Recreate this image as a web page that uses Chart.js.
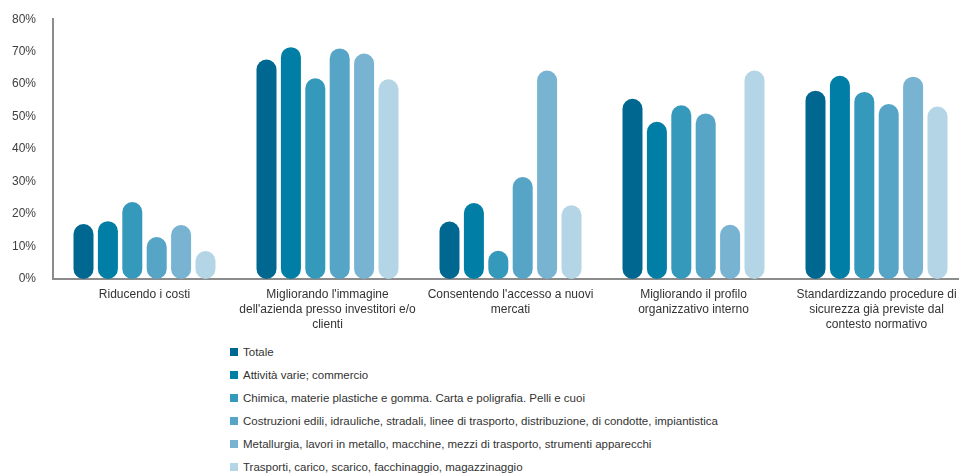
<!DOCTYPE html>
<html>
<head>
<meta charset="utf-8">
<script src="https://cdn.jsdelivr.net/npm/chart.js@4"></script>
<style>
  html, body { margin: 0; padding: 0; background: #fff; }
  body { width: 959px; height: 474px; position: relative; overflow: hidden; font-family: "Liberation Sans", Arial, sans-serif; }
  #wrap { position: absolute; left: 0; top: -5px; width: 968px; height: 345px; }
  #legend { position: absolute; left: 230px; top: 340px; font-size: 11.5px; color: #333; }
  .item { height: 23px; line-height: 20px; display: flex; align-items: center; }
  .sw { width: 8px; height: 8px; margin-right: 5px; flex: none; }
</style>
</head>
<body>
<div id="wrap"><canvas id="c"></canvas></div>
<div id="legend"></div>
<script>
const categories = [
  "Riducendo i costi",
  ["Migliorando l'immagine", "dell'azienda presso investitori e/o", "clienti"],
  ["Consentendo l'accesso a nuovi", "mercati"],
  ["Migliorando il profilo", "organizzativo interno"],
  ["Standardizzando procedure di", "sicurezza già previste dal", "contesto normativo"]
];
const seriesNames = [
  "Totale",
  "Attività varie; commercio",
  "Chimica, materie plastiche e gomma. Carta e poligrafia. Pelli e cuoi",
  "Costruzioni edili, idrauliche, stradali, linee di trasporto, distribuzione, di condotte, impiantistica",
  "Metallurgia, lavori in metallo, macchine, mezzi di trasporto, strumenti apparecchi",
  "Trasporti, carico, scarico, facchinaggio, magazzinaggio"
];
const totale      = [16.9, 67.6, 17.7, 55.5, 58.0];
const attivita    = [17.8, 71.4, 23.4, 48.4, 62.6];
const chimica     = [23.7, 61.8, 8.7, 53.5, 57.6];
const costruzioni = [12.9, 71.0, 31.4, 51.0, 53.9];
const metallurgia = [16.6, 69.4, 64.2, 16.7, 62.3];
const trasporti   = [8.6, 61.5, 22.7, 64.2, 53.1];
const yTicks = [0, 10, 20, 30, 40, 50, 60, 70, 80];

const colors = ["#006890", "#007EA5", "#3599BB", "#56A5C6", "#78B3D1", "#B3D5E6"];
const seriesValues = [totale, attivita, chimica, costruzioni, metallurgia, trasporti];

const datasets = seriesValues.map((vals, i) => ({
  label: seriesNames[i],
  data: vals,
  backgroundColor: colors[i],
  borderWidth: 0,
  borderRadius: 20,
  borderSkipped: false,
  categoryPercentage: 0.80,
  barPercentage: 0.82
}));

const chart = new Chart(document.getElementById('c'), {
  type: 'bar',
  data: { labels: categories, datasets },
  options: {
    responsive: true,
    maintainAspectRatio: false,
    animation: false,
    layout: { padding: { top: 6, left: 0, right: 0, bottom: 0 } },
    plugins: { legend: { display: false }, tooltip: { enabled: false } },
    scales: {
      x: {
        grid: { display: false, drawTicks: false },
        border: { display: true, color: '#8c8c8c', width: 2 },
        ticks: {
          color: '#333', padding: 8, maxRotation: 0, autoSkip: false,
          font: { family: "'Liberation Sans', Arial, sans-serif", size: 12, lineHeight: 1.25 }
        }
      },
      y: {
        min: 0, max: 80,
        afterBuildTicks: (axis) => { axis.ticks = yTicks.map(v => ({ value: v })); },
        afterFit: (axis) => { axis.width = 53; },
        grid: { display: false, drawTicks: false },
        border: { display: true, color: '#8c8c8c', width: 2 },
        ticks: {
          color: '#404040', padding: 17,
          callback: (v) => v + '%',
          font: { family: "'Liberation Sans', Arial, sans-serif", size: 12 }
        }
      }
    }
  }
});

const leg = document.getElementById('legend');
chart.data.datasets.forEach(ds => {
  const row = document.createElement('div');
  row.className = 'item';
  const sw = document.createElement('span');
  sw.className = 'sw';
  sw.style.background = ds.backgroundColor;
  const t = document.createElement('span');
  t.textContent = ds.label;
  row.appendChild(sw); row.appendChild(t);
  leg.appendChild(row);
});
</script>
</body>
</html>
